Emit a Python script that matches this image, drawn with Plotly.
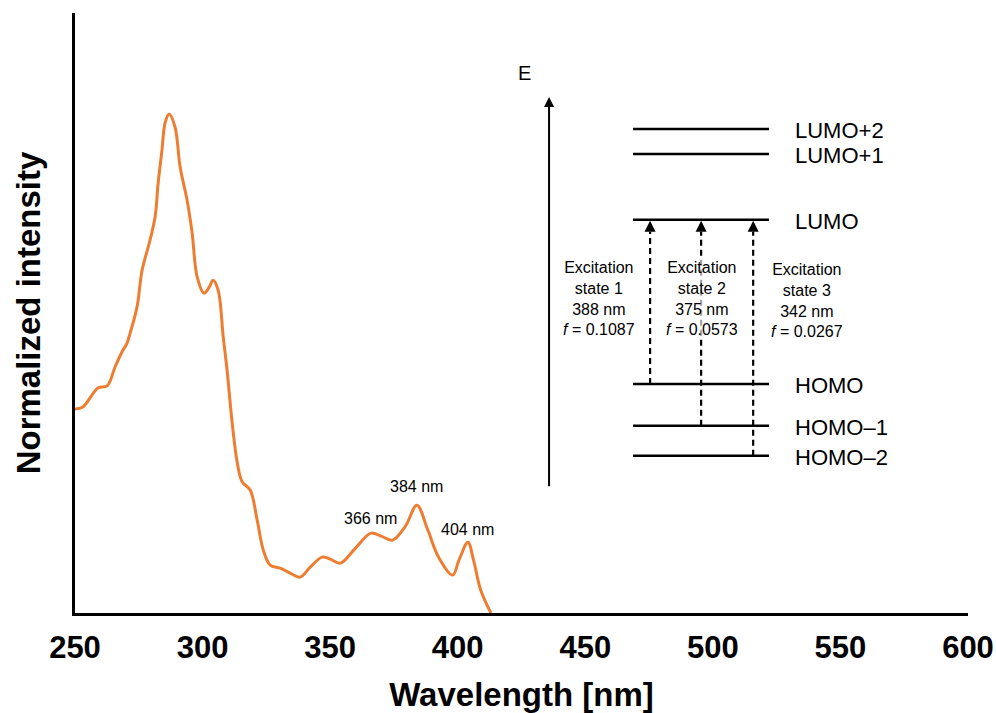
import plotly.graph_objects as go

# Absorption spectrum (normalized)
wavelength = [250.0, 253.1, 259.0, 262.6, 265.7, 268.4, 270.4, 271.6, 274.3, 276.3,
              279.4, 281.4, 282.6, 284.1, 285.3, 286.9, 289.2, 291.2, 293.9, 295.9,
              297.9, 300.6, 302.6, 304.1, 306.1, 308.1, 309.6, 311.6, 313.6, 315.5,
              318.7, 321.4, 323.8, 326.5, 330.4, 334.3, 338.3, 342.2, 346.9, 350.0,
              354.0, 359.6, 366.0, 370.0, 374.5, 379.5, 384.0, 388.3, 392.5, 398.0,
              400.5, 404.0, 406.2, 409.0, 413.0]
intensity = [0.409, 0.413, 0.451, 0.455, 0.493, 0.523, 0.541, 0.561, 0.613, 0.687,
             0.747, 0.794, 0.862, 0.928, 0.982, 1.000, 0.974, 0.894, 0.828, 0.762,
             0.673, 0.641, 0.653, 0.667, 0.647, 0.553, 0.487, 0.381, 0.301, 0.263,
             0.246, 0.186, 0.126, 0.096, 0.090, 0.080, 0.072, 0.092, 0.112, 0.108,
             0.100, 0.128, 0.160, 0.154, 0.146, 0.174, 0.216, 0.166, 0.112, 0.076,
             0.106, 0.142, 0.106, 0.046, 0.000]

# Labelled absorption peaks
peak_nm = [366, 384, 404]
peak_text = ["366 nm", "384 nm", "404 nm"]
peak_label_y = [0.190, 0.253, 0.168]

# Energy level diagram (drawn in axis units)
level_names = ["LUMO+2", "LUMO+1", "LUMO", "HOMO", "HOMO\u20131", "HOMO\u20132"]
level_energy = [0.970, 0.920, 0.788, 0.459, 0.375, 0.315]
level_x = [468.7, 522.0]
level_label_x = 531.5

# Excitations: from level index -> LUMO
exc_from = [3, 4, 5]
exc_x = [475.4, 495.4, 515.8]
exc_text = ["Excitation<br>state 1<br>388 nm<br><i>f</i> = 0.1087",
            "Excitation<br>state 2<br>375 nm<br><i>f</i> = 0.0573",
            "Excitation<br>state 3<br>342 nm<br><i>f</i> = 0.0267"]
exc_text_x = [455.4, 495.8, 537.0]
exc_text_y = [0.630, 0.630, 0.626]

energy_axis_x = 435.8
energy_axis_y = [0.251, 1.034]

FONT = "Liberation Sans, Arial, Helvetica, sans-serif"

fig = go.Figure()
fig.add_trace(go.Scatter(
    x=wavelength, y=intensity, mode="lines",
    line=dict(color="#EE7D31", width=3, shape="spline", smoothing=1.0),
    hoverinfo="skip", showlegend=False,
))

annotations = []
shapes = []

for nm, txt, ly in zip(peak_nm, peak_text, peak_label_y):
    annotations.append(dict(x=nm, y=ly, text=txt, showarrow=False,
                            font=dict(size=16, color="black", family=FONT)))

for name, e in zip(level_names, level_energy):
    shapes.append(dict(type="line", xref="x", yref="y", x0=level_x[0], x1=level_x[1],
                       y0=e, y1=e, line=dict(color="black", width=2.5)))
    annotations.append(dict(x=level_label_x, y=e, text=name, showarrow=False,
                            xanchor="left", yanchor="middle", yshift=-2,
                            font=dict(size=22, color="black", family=FONT)))

lumo = level_energy[2]
for i, xx in zip(exc_from, exc_x):
    shapes.append(dict(type="line", xref="x", yref="y", x0=xx, x1=xx,
                       y0=level_energy[i], y1=lumo - 0.024,
                       line=dict(color="black", width=2.2, dash="6px,4px")))
    annotations.append(dict(x=xx, y=lumo, ax=0, ay=12, text="", showarrow=True,
                            arrowhead=2, arrowsize=1, arrowwidth=2.2, arrowcolor="black",
                            standoff=1))

for txt, tx, ty in zip(exc_text, exc_text_x, exc_text_y):
    annotations.append(dict(x=tx, y=ty, text=txt, showarrow=False, align="center",
                            bgcolor="rgba(255,255,255,0.65)", borderpad=0,
                            font=dict(size=16, color="black", family=FONT)))

# Energy axis arrow
annotations.append(dict(x=energy_axis_x, y=energy_axis_y[1], ax=energy_axis_x,
                        ay=energy_axis_y[0], axref="x", ayref="y", text="",
                        showarrow=True, arrowhead=2, arrowsize=1, arrowwidth=2,
                        arrowcolor="black"))
annotations.append(dict(x=energy_axis_x - 9.7, y=1.082, text="E", showarrow=False,
                        font=dict(size=20, color="black", family=FONT)))

fig.update_layout(
    width=996, height=713,
    margin=dict(l=75, r=28, t=13, b=100, autoexpand=False),
    paper_bgcolor="white", plot_bgcolor="white",
    font=dict(family=FONT, color="black"),
    shapes=shapes, annotations=annotations,
    xaxis=dict(range=[250, 600], tickvals=[250, 300, 350, 400, 450, 500, 550, 600],
               automargin=False,
               showgrid=False, zeroline=False, showline=True, linecolor="black",
               linewidth=3, ticks="outside", ticklen=5, tickcolor="rgba(0,0,0,0)",
               tickfont=dict(size=31, family=FONT, weight="bold", color="black"),
               title=dict(text="Wavelength [nm]", standoff=27,
                          font=dict(size=33, family=FONT, weight="bold", color="black"))),
    yaxis=dict(range=[0, 1.2024], showgrid=False, zeroline=False, showline=True,
               automargin=False,
               linecolor="black", linewidth=3, showticklabels=False, ticks="",
               title=dict(text="Normalized intensity", standoff=22,
                          font=dict(size=33, family=FONT, weight="bold", color="black"))),
)

fig.write_html("out.html")
